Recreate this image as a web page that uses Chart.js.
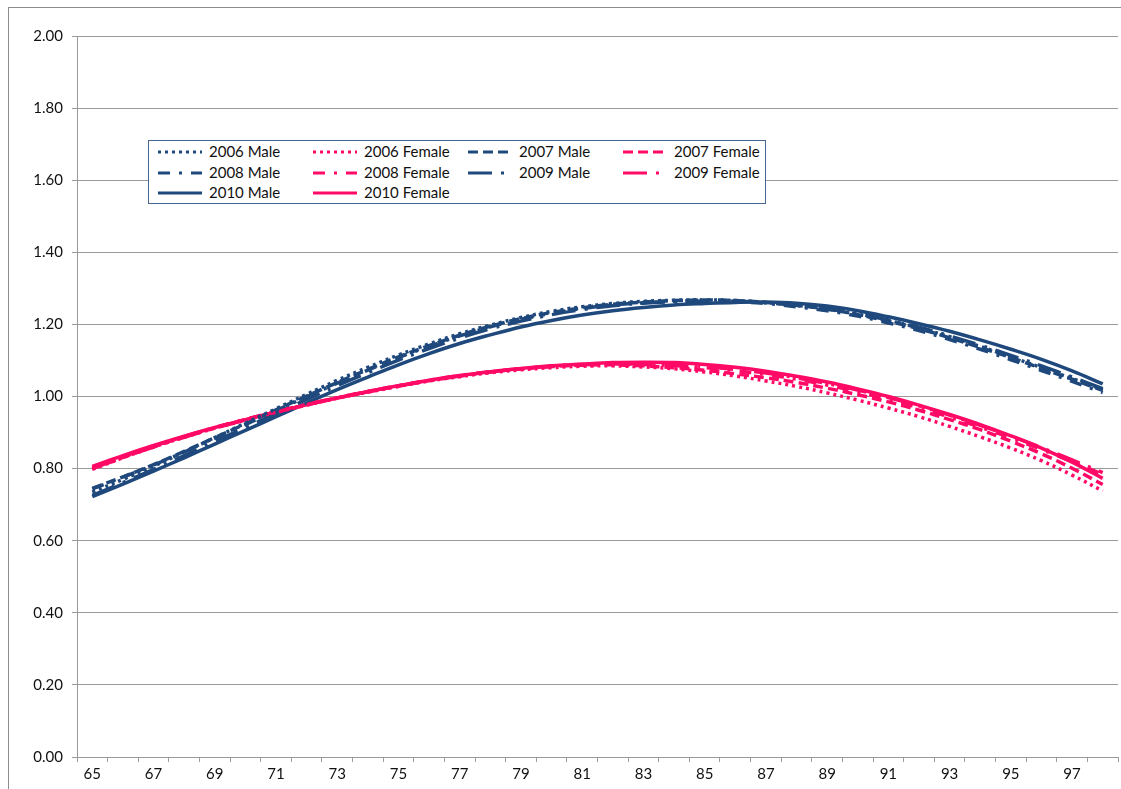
<!DOCTYPE html>
<html>
<head>
<meta charset="utf-8">
<script src="https://cdn.jsdelivr.net/npm/chart.js@4.4.0/dist/chart.umd.min.js"></script>
<style>
  body { margin:0; background:#fff; font-family: Lato, "Open Sans", sans-serif; }
  #wrap { position:relative; width:1121px; height:789px; overflow:hidden; }
  #frame { position:absolute; left:8px; top:7px; width:1200px; height:900px; border-left:1px solid #8c8c8c; border-top:1px solid #8c8c8c; }
  canvas { position:absolute; left:0; top:0; }
  #legend { position:absolute; left:148px; top:140px; width:616px; height:62px; border:1px solid #46658f; background:#fff; }
  .item { position:absolute; height:20px; font-size:15px; color:#111; white-space:nowrap; }
  .item svg { position:absolute; left:0; top:6px; }
  .item span { position:absolute; left:51px; top:0px; }
</style>
</head>
<body>
<div id="wrap">
  <div id="frame"></div>
  <canvas id="chart" width="1121" height="789"></canvas>
  <div id="legend"></div>
</div>
<script>
// ages on the x axis
const ages = [65,66,67,68,69,70,71,72,73,74,75,76,77,78,79,80,81,82,83,84,85,86,87,88,89,90,91,92,93,94,95,96,97,98];

// values, one per age
const male2006 = [0.735,0.770,0.807,0.846,0.886,0.926,0.966,1.006,1.045,1.081,1.115,1.146,1.174,1.198,1.219,1.236,1.249,1.258,1.264,1.267,1.268,1.266,1.261,1.253,1.242,1.228,1.211,1.190,1.166,1.139,1.110,1.080,1.050,1.019];
const female2006 = [0.798,0.830,0.860,0.887,0.912,0.935,0.956,0.976,0.995,1.012,1.028,1.043,1.055,1.066,1.074,1.080,1.084,1.085,1.082,1.077,1.068,1.057,1.043,1.028,1.010,0.990,0.968,0.944,0.917,0.888,0.857,0.822,0.782,0.738];
const male2007 = [0.745,0.777,0.811,0.848,0.886,0.924,0.963,1.001,1.039,1.075,1.110,1.141,1.170,1.195,1.216,1.233,1.246,1.256,1.262,1.266,1.268,1.266,1.261,1.253,1.242,1.227,1.209,1.188,1.163,1.136,1.108,1.078,1.048,1.017];
const female2007 = [0.800,0.831,0.861,0.888,0.913,0.936,0.957,0.977,0.996,1.013,1.029,1.044,1.057,1.068,1.077,1.083,1.087,1.088,1.085,1.080,1.073,1.063,1.052,1.039,1.023,1.005,0.985,0.962,0.936,0.908,0.876,0.841,0.801,0.756];
const male2008 = [0.744,0.776,0.810,0.846,0.884,0.922,0.961,0.999,1.037,1.073,1.108,1.139,1.168,1.193,1.214,1.231,1.244,1.254,1.260,1.264,1.265,1.263,1.258,1.249,1.238,1.223,1.204,1.183,1.158,1.131,1.102,1.072,1.042,1.011];
const female2008 = [0.802,0.833,0.862,0.889,0.914,0.937,0.958,0.978,0.997,1.014,1.030,1.045,1.058,1.069,1.077,1.084,1.088,1.090,1.089,1.086,1.080,1.072,1.061,1.048,1.032,1.013,0.992,0.969,0.943,0.915,0.885,0.853,0.819,0.784];
const male2009 = [0.726,0.761,0.798,0.836,0.875,0.914,0.953,0.992,1.030,1.066,1.101,1.133,1.162,1.188,1.209,1.227,1.241,1.252,1.259,1.263,1.265,1.264,1.260,1.253,1.243,1.229,1.212,1.192,1.168,1.142,1.114,1.085,1.054,1.022];
const female2009 = [0.800,0.831,0.860,0.887,0.912,0.935,0.957,0.977,0.996,1.013,1.029,1.044,1.057,1.068,1.077,1.084,1.088,1.091,1.091,1.088,1.083,1.075,1.065,1.052,1.036,1.018,0.997,0.974,0.948,0.920,0.890,0.858,0.824,0.789];
const male2010 = [0.722,0.757,0.793,0.830,0.868,0.906,0.944,0.982,1.019,1.054,1.088,1.119,1.147,1.171,1.193,1.211,1.226,1.238,1.247,1.254,1.258,1.261,1.262,1.259,1.251,1.238,1.221,1.202,1.181,1.157,1.131,1.103,1.071,1.035];
const female2010 = [0.806,0.836,0.864,0.890,0.914,0.936,0.957,0.977,0.996,1.014,1.030,1.045,1.058,1.069,1.078,1.085,1.090,1.094,1.095,1.094,1.089,1.081,1.070,1.056,1.040,1.021,1.000,0.976,0.950,0.922,0.891,0.857,0.818,0.773];

const yTicks = [0,0.2,0.4,0.6,0.8,1.0,1.2,1.4,1.6,1.8,2.0];

const BLUE = "#1F497D";
const PINK = "#FF0A66";
const DOT = [3,4], DASH = [10,5], DASHDOT = [12,9,3,9], LONGDASHDOT = [24,9,3,9], SOLID = [];

function series(label, data, color, dash){
  return { label, data, borderColor: color, backgroundColor: color, borderDash: dash,
    borderWidth: 3.5, pointRadius: 0, fill: false, tension: 0.4 };
}

const datasets = [
  series("2006 Male", male2006, BLUE, DOT),
  series("2006 Female", female2006, PINK, DOT),
  series("2007 Male", male2007, BLUE, DASH),
  series("2007 Female", female2007, PINK, DASH),
  series("2008 Male", male2008, BLUE, DASHDOT),
  series("2008 Female", female2008, PINK, DASHDOT),
  series("2009 Male", male2009, BLUE, LONGDASHDOT),
  series("2009 Female", female2009, PINK, LONGDASHDOT),
  series("2010 Male", male2010, BLUE, SOLID),
  series("2010 Female", female2010, PINK, SOLID)
];

const GRID = "#9a9a9a";
const FONT = { family: "Lato, 'Open Sans', sans-serif", size: 15 };

new Chart(document.getElementById("chart"), {
  type: "line",
  data: { labels: ages, datasets },
  options: {
    responsive: false,
    animation: false,
    layout: { padding: { left: 0, top: 36, right: 3, bottom: 0 } },
    plugins: { legend: { display: false }, tooltip: { enabled: false }, title: { display: false } },
    scales: {
      x: {
        offset: true,
        grid: { offset: true, drawOnChartArea: false, drawTicks: true, tickLength: 5, color: GRID },
        border: { color: GRID },
        ticks: { autoSkip: false, maxRotation: 0, padding: 3, color: "#111", font: FONT,
          callback: (v, i) => i % 2 === 0 ? ages[i] : "" },
        afterFit: s => { s.height = 32; }
      },
      y: {
        min: 0, max: 2,
        afterBuildTicks: s => { s.ticks = yTicks.map(v => ({ value: v })); },
        grid: { color: GRID, tickLength: 5 },
        border: { color: GRID },
        ticks: { padding: 9, color: "#111", font: FONT, callback: v => Number(v).toFixed(2) },
        afterFit: s => { s.width = 77; }
      }
    }
  }
});

// legend box built from the datasets
const legend = document.getElementById("legend");
datasets.forEach((ds, i) => {
  const row = Math.floor(i / 4), col = i % 4;
  const item = document.createElement("div");
  item.className = "item";
  item.style.left = (9 + col * 155) + "px";
  item.style.top = (1 + row * 20.5) + "px";
  item.innerHTML = `<svg width="44" height="8"><line x1="0" y1="4" x2="44" y2="4" stroke="${ds.borderColor}" stroke-width="3" stroke-dasharray="${ds.borderDash.join(" ") || "none"}"/></svg><span>${ds.label}</span>`;
  legend.appendChild(item);
});
</script>
</body>
</html>
